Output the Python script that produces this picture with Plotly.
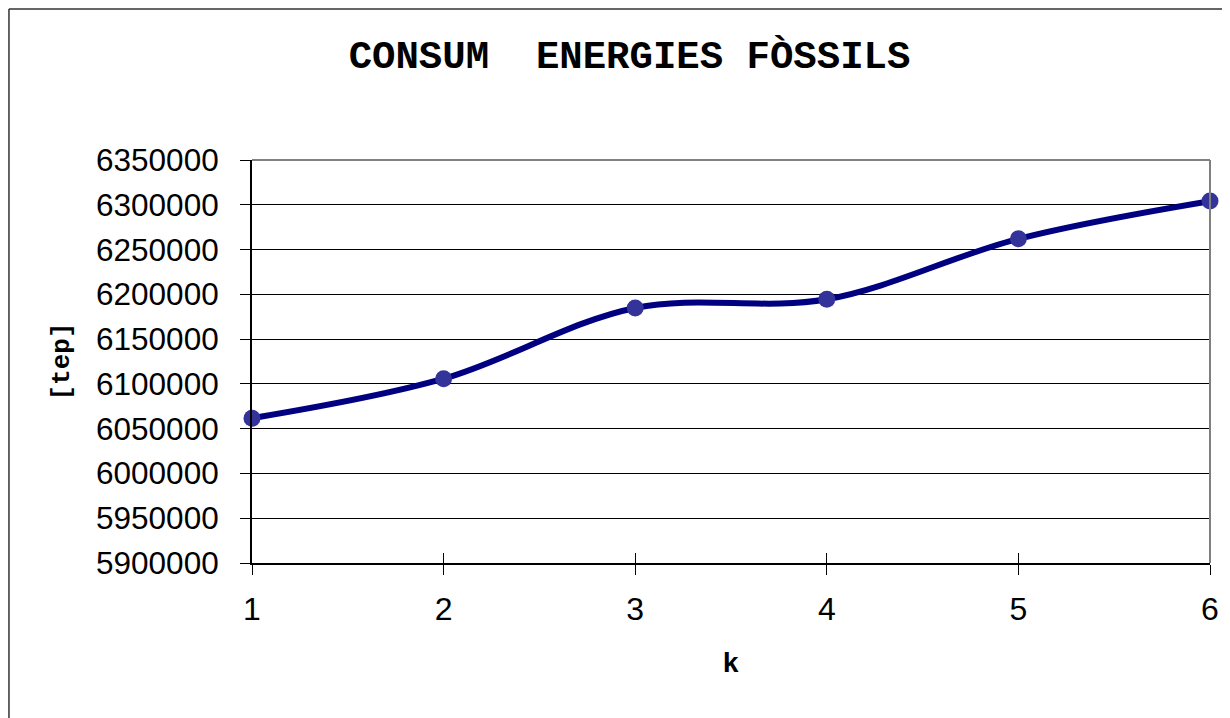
import plotly.graph_objects as go

# Data
k_values = [1, 2, 3, 4, 5, 6]
consum_tep = [6061700, 6105800, 6184800, 6194500, 6262000, 6304100]
y_tick_values = [5900000, 5950000, 6000000, 6050000, 6100000, 6150000,
                 6200000, 6250000, 6300000, 6350000]
y_tick_labels = [str(v) for v in y_tick_values]
x_tick_labels = [str(v) for v in k_values]

title_text = "CONSUM  ENERGIES FÒSSILS"
x_title = "k"
y_title = "[tep]"

MONO = "Liberation Mono, Courier New, monospace"
SANS = "Liberation Sans, Arial, sans-serif"

fig = go.Figure()

fig.add_trace(go.Scatter(
    x=k_values, y=consum_tep,
    mode="lines+markers",
    line=dict(color="#000080", width=6, shape="spline", smoothing=1),
    marker=dict(color="#333399", size=17, line=dict(width=0)),
    cliponaxis=False,
    showlegend=False,
))

# invisible trace carrying the overlay axes (inside half of the crossing ticks)
fig.add_trace(go.Scatter(
    x=k_values, y=consum_tep, xaxis="x2", yaxis="y2",
    mode="lines", line=dict(width=0), opacity=0,
    hoverinfo="skip", showlegend=False,
))

fig.update_layout(
    width=1222, height=710,
    paper_bgcolor="white", plot_bgcolor="white",
    margin=dict(l=244, r=20, t=152, b=155),
    title=dict(
        text=f"<b>{title_text}</b>",
        font=dict(family=MONO, size=39, color="black"),
        xref="container", x=0.5086, xanchor="center",
        yref="container", y=0.935, yanchor="middle",
    ),
    xaxis=dict(
        range=[1, 6], tickvals=k_values, ticktext=x_tick_labels,
        showgrid=False, zeroline=False,
        showline=True, linecolor="black", linewidth=2,
        ticks="outside", ticklen=10, tickwidth=1, tickcolor="black",
        ticklabelstandoff=7,
        tickfont=dict(family=SANS, size=32, color="black"),
        title=dict(text=f"<b>{x_title}</b>", standoff=26,
                   font=dict(family=MONO, size=28, color="black")),
    ),
    yaxis=dict(
        range=[5900000, 6350000], tickvals=y_tick_values, ticktext=y_tick_labels,
        showgrid=True, gridcolor="black", gridwidth=1,
        zeroline=False,
        showline=True, linecolor="black", linewidth=2,
        ticks="outside", ticklen=10, tickwidth=1, tickcolor="black",
        ticklabelstandoff=15,
        tickfont=dict(family=SANS, size=31.5, color="black"),
        title=dict(text=f"<b>{y_title}</b>", standoff=19,
                   font=dict(family=MONO, size=26, color="black")),
    ),
    xaxis2=dict(
        overlaying="x", anchor="y", side="bottom", range=[1, 6],
        tickvals=k_values, showticklabels=False, showgrid=False,
        zeroline=False, showline=False,
        ticks="inside", ticklen=10, tickwidth=1, tickcolor="black",
    ),
    yaxis2=dict(
        overlaying="y", anchor="x", side="left", range=[5900000, 6350000],
        tickvals=y_tick_values, showticklabels=False, showgrid=False,
        zeroline=False, showline=False,
        ticks="inside", ticklen=10, tickwidth=1, tickcolor="black",
    ),
    shapes=[
        # grey top and right borders of the plot area
        dict(type="line", xref="paper", yref="paper", x0=0, x1=1, y0=1, y1=1,
             line=dict(color="#808080", width=2), layer="above"),
        dict(type="line", xref="paper", yref="paper", x0=1, x1=1, y0=0, y1=1,
             line=dict(color="#808080", width=2), layer="above"),
        # outer chart frame (left and top edges visible)
        dict(type="line", xref="paper", yref="paper",
             x0=-0.2537, x1=-0.2537, y0=-0.45, y1=1.3747,
             line=dict(color="#333333", width=1.5)),
        dict(type="line", xref="paper", yref="paper",
             x0=-0.2537, x1=1.1, y0=1.3747, y1=1.3747,
             line=dict(color="#333333", width=1.5)),
    ],
)

fig.write_html("out.html")
